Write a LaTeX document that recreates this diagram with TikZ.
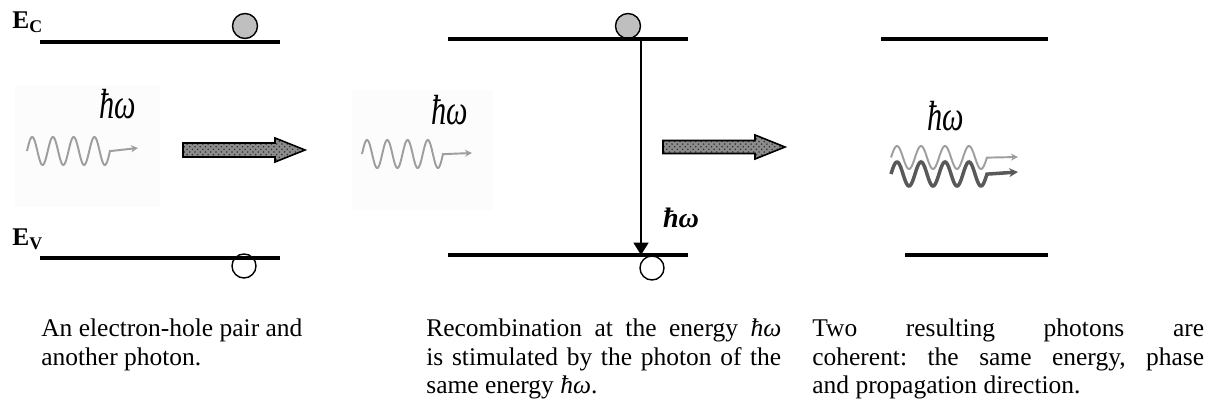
\documentclass[tikz,border=0pt]{standalone}
\usepackage{fontspec}
\setmainfont{Liberation Serif}
\usepackage{graphicx}
\usetikzlibrary{arrows.meta,patterns}

\tikzset{
  level/.style={line width=2.5pt},
  electron/.style={circle, draw, line width=0.8pt, fill=black!25, minimum size=0.5cm, inner sep=0pt},
  hole/.style={circle, draw, line width=0.8pt, fill=white, minimum size=0.48cm, inner sep=0pt},
  photon/.style={line width=1.1pt, black!38, -{Stealth[length=4pt,width=4pt]}},
  darkphoton/.style={line width=2pt, black!65, -{Stealth[length=5pt,width=5pt]}},
  hw/.style={inner sep=0pt, anchor=base, font=\fontsize{24}{24}\selectfont\itshape},
  bigarrow/.style={draw, line width=0.9pt, preaction={fill=black!45}, pattern=crosshatch dots, pattern color=black!80},
  caption/.style={inner sep=0pt, anchor=base west, align=justify, font=\fontsize{14.5}{16.2}\selectfont\frenchspacing},
  elabel/.style={inner sep=0pt, anchor=base west, font=\fontsize{14.5}{15}\selectfont\bfseries}
}

\begin{document}
\begin{tikzpicture}[x=0.02cm, y=-0.02cm, >={Triangle[length=7pt,width=8.5pt]}]
 \useasboundingbox (0,0) rectangle (1211,405);

 % first panel: pair and incoming photon
 \fill[black!1] (15,85) rectangle (160,207);
 \node[electron] (e1) at (245,26) {};
 \node[hole] (h1) at (244,266) {};
 \draw[level] (40,42) -- (280,42);
 \draw[level] (40,258) -- (280,258);
 \node[elabel] (ec) at (12,29) {E\textsubscript{C}};
 \node[elabel] (ev) at (12,246) {E\textsubscript{V}};
 \node[hw] (hw1) at (118,119) {\scalebox{0.72}[1]{ħω}};
 \coordinate (w1) at (138,148);
 \draw[photon] plot[domain=0:4, samples=120, smooth] ({27+20.75*\x},{151-14*sin(360*\x)}) -- (w1);
 \draw[bigarrow] (183,143) -- (275,143) -- (275,138) -- (305,150) -- (275,162) -- (275,157) -- (183,157) -- cycle;

 % second panel: stimulated recombination
 \fill[black!1] (352,90) rectangle (493,210);
 \node[electron] (e2) at (628,26) {};
 \node[hole] (h2) at (652,268) {};
 \draw[level] (448,39) -- (688,39);
 \draw[level] (448,255) -- (688,255);
 \node[hw] (hw2) at (450,125) {\scalebox{0.72}[1]{ħω}};
 \coordinate (w2) at (472,153);
 \draw[photon] plot[domain=0:4, samples=120, smooth] ({362+20.25*\x},{154-14*sin(360*\x)}) -- (w2);
 \coordinate (top2) at (641,41);
 \coordinate (bot2) at (641,255);
 \draw[->, line width=0.85pt] (top2) -- (bot2);
 \node[inner sep=0pt, anchor=base, font=\fontsize{16}{16}\selectfont\bfseries\itshape] (hw3) at (681,228) {ħω};
 \draw[bigarrow] (663,140.5) -- (755,140.5) -- (755,135) -- (785,147) -- (755,159) -- (755,153.5) -- (663,153.5) -- cycle;

 % third panel: two coherent photons
 \draw[level] (881,39) -- (1048,39);
 \draw[level] (905,255) -- (1048,255);
 \node[hw] (hw4) at (946,131) {\scalebox{0.72}[1]{ħω}};
 \coordinate (w3) at (1018,157);
 \coordinate (w4) at (1018,172);
 \draw[photon] plot[domain=0:4, samples=120, smooth] ({891+24*\x},{157.5-11.5*sin(360*\x)}) -- (w3);
 \draw[darkphoton] plot[domain=0:4, samples=120, smooth] ({891+24*\x},{174-12*sin(360*\x)}) -- (w4);

 % captions
 \node[caption, text width=151pt] (cap1) at (41,337) {An electron-hole pair and\\ another photon.};
 \node[caption, text width=202pt] (cap2) at (426,337) {Recombination at the energy \textit{ħω}\linebreak is stimulated by the photon of the\linebreak same energy \textit{ħω}.};
 \node[caption, text width=223pt] (cap3) at (812,337) {Two resulting photons are\linebreak coherent: the same energy, phase\linebreak and propagation direction.};
\end{tikzpicture}
\end{document}
